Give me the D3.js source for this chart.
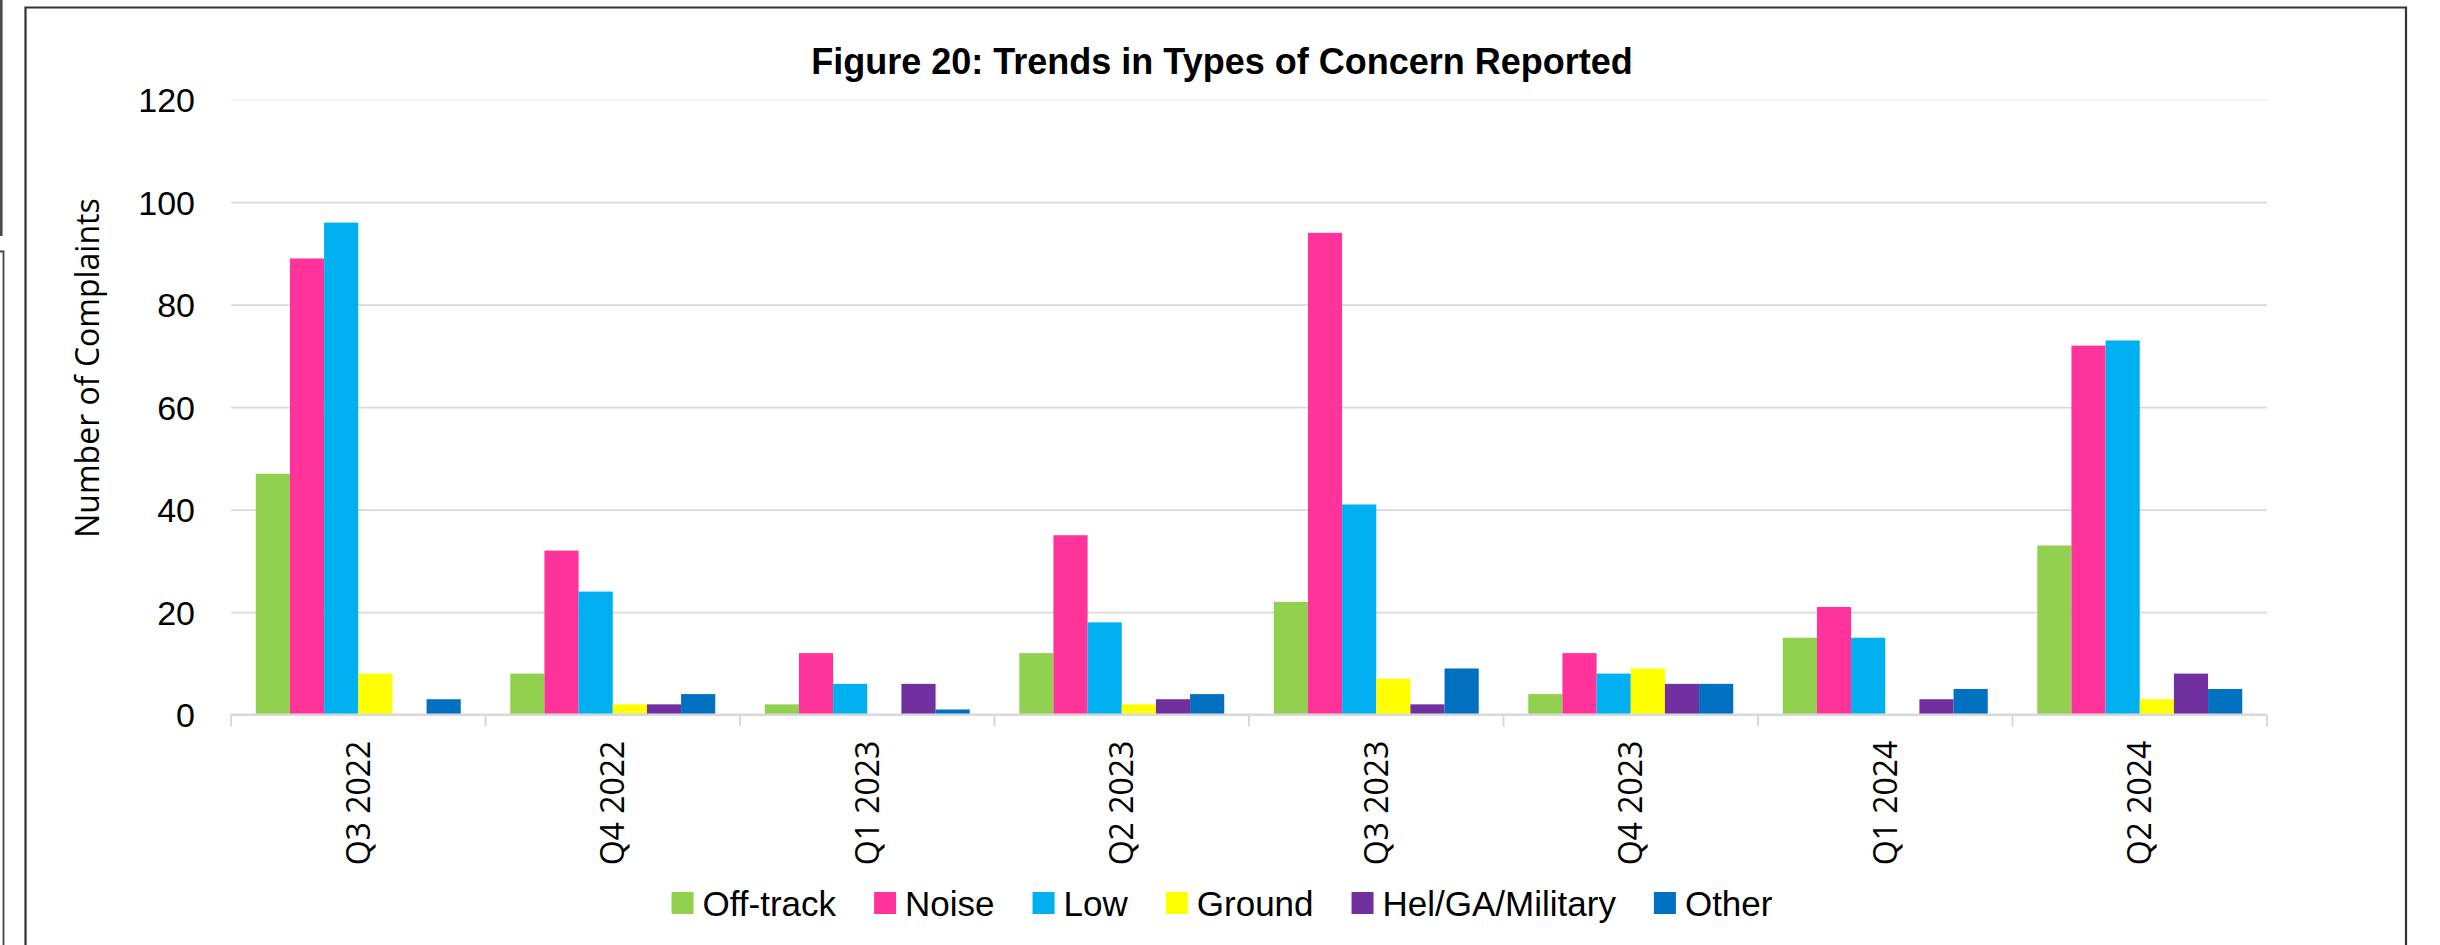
<!DOCTYPE html>
<html>
<head>
<meta charset="utf-8">
<script src="https://cdn.jsdelivr.net/npm/d3@7"></script>
<style>
  html, body { margin: 0; padding: 0; background: #fff; }
  svg { display: block; }
</style>
</head>
<body>
<svg id="chart" width="2440" height="945"></svg>
<script>
// ---- Data ----
const categories = ["Q3 2022", "Q4 2022", "Q1 2023", "Q2 2023", "Q3 2023", "Q4 2023", "Q1 2024", "Q2 2024"];
const seriesNames = ["Off-track", "Noise", "Low", "Ground", "Hel/GA/Military", "Other"];
const offTrack = [47, 8, 2, 12, 22, 4, 15, 33];
const noise    = [89, 32, 12, 35, 94, 12, 21, 72];
const low      = [96, 24, 6, 18, 41, 8, 15, 73];
const ground   = [8, 2, 0, 2, 7, 9, 0, 3];
const helGA    = [0, 2, 6, 3, 2, 6, 3, 8];
const other    = [3, 4, 1, 4, 9, 6, 5, 5];
const yTicks   = [0, 20, 40, 60, 80, 100, 120];
const titleText = "Figure 20: Trends in Types of Concern Reported";
const yTitle = "Number of Complaints";

const seriesValues = [offTrack, noise, low, ground, helGA, other];
const colors = ["#92d050", "#ff3399", "#00b0f0", "#ffff00", "#7030a0", "#0070c0"];

// ---- Layout ----
const svg = d3.select("#chart");
const plot = { left: 231, right: 2267, top: 99.6, bottom: 714.6 };
const centerX = 1222;

// decorative frames (page borders)
svg.append("line").attr("x1", 1.3).attr("x2", 1.3).attr("y1", 0).attr("y2", 236)
  .attr("stroke", "#444").attr("stroke-width", 2.5);
svg.append("path").attr("d", "M0,251.5 H3.5 V945").attr("fill", "none")
  .attr("stroke", "#444").attr("stroke-width", 1.8);
svg.append("path").attr("d", "M25.5,945 V7.5 H2406 V945").attr("fill", "none")
  .attr("stroke", "#333").attr("stroke-width", 2.2);

// scales
const x0 = d3.scaleBand().domain(categories).range([plot.left, plot.right]).paddingInner(0).paddingOuter(0);
const gapRatio = 1.45;
const bw = x0.bandwidth();
const barW = bw / (seriesNames.length + gapRatio);
const groupPad = barW * gapRatio / 2;
const x1 = d3.scaleBand().domain(seriesNames).range([groupPad, bw - groupPad]).padding(0);
const y = d3.scaleLinear().domain([0, 120]).range([plot.bottom, plot.top]);
const color = d3.scaleOrdinal().domain(seriesNames).range(colors);

// gridlines + y tick labels via axis
const yAxis = d3.axisLeft(y).tickValues(yTicks).tickSize(-(plot.right - plot.left)).tickPadding(36);
const gy = svg.append("g").attr("transform", `translate(${plot.left},0)`).call(yAxis);
gy.select(".domain").remove();
gy.selectAll(".tick line")
  .attr("stroke", d => d === 120 ? "#f2f2f2" : "#d9d9d9")
  .attr("stroke-width", 1.6);
gy.selectAll(".tick text")
  .attr("fill", "#000")
  .style("font-family", "'Liberation Sans', Arial, sans-serif")
  .style("font-size", "34px")
  .attr("dy", "0.36em");

// bars
const groups = svg.append("g").selectAll("g")
  .data(categories)
  .join("g")
  .attr("transform", d => `translate(${x0(d)},0)`);

groups.selectAll("rect")
  .data((c, i) => seriesNames.map((s, j) => ({ s, v: seriesValues[j][i] })))
  .join("rect")
  .attr("x", d => x1(d.s))
  .attr("width", x1.bandwidth())
  .attr("y", d => y(d.v))
  .attr("height", d => y(0) - y(d.v))
  .attr("fill", d => color(d.s));

// x axis baseline
svg.append("line")
  .attr("x1", plot.left).attr("x2", plot.right)
  .attr("y1", y(0)).attr("y2", y(0))
  .attr("stroke", "#d9d9d9").attr("stroke-width", 2);

// boundary ticks
const boundaries = categories.map(c => x0(c)).concat([x0.range()[1]]);
svg.append("g").selectAll("line")
  .data(boundaries)
  .join("line")
  .attr("x1", d => d).attr("x2", d => d)
  .attr("y1", y(0)).attr("y2", y(0) + 12)
  .attr("stroke", "#d9d9d9").attr("stroke-width", 2);

// category labels (rotated) via axis
const xAxis = d3.axisBottom(x0).tickSize(0).tickPadding(0);
const gx = svg.append("g").attr("transform", `translate(0,${y(0)})`).call(xAxis);
gx.select(".domain").remove();
gx.selectAll(".tick text")
  .attr("fill", "#000")
  .style("font-family", "'Open Sans', sans-serif")
  .style("font-size", "32px")
  .attr("text-anchor", "end")
  .attr("transform", "translate(0,26) rotate(-90)")
  .attr("x", 0).attr("y", 0)
  .attr("dy", "0.36em");

// title
svg.append("text")
  .attr("x", centerX).attr("y", 74)
  .attr("text-anchor", "middle")
  .style("font-family", "'Liberation Sans', Arial, sans-serif")
  .style("font-weight", "bold")
  .style("font-size", "36px")
  .attr("fill", "#000")
  .text(titleText);

// y title
svg.append("text")
  .attr("transform", "translate(99,368) rotate(-90)")
  .attr("text-anchor", "middle")
  .style("font-family", "'Open Sans', sans-serif")
  .style("font-size", "32px")
  .attr("fill", "#000")
  .text(yTitle);

// legend
const legend = svg.append("g");
const sw = 22, textGap = 9, itemGap = 38;
let cursor = 0;
const items = [];
seriesNames.forEach((s, i) => {
  const g = legend.append("g");
  g.append("rect").attr("x", 0).attr("y", -sw / 2).attr("width", sw).attr("height", sw).attr("fill", colors[i]);
  const t = g.append("text")
    .attr("x", sw + textGap).attr("y", 0).attr("dy", "0.36em")
    .style("font-family", "'Liberation Sans', Arial, sans-serif")
    .style("font-size", "35px")
    .attr("fill", "#000")
    .text(s);
  const w = sw + textGap + t.node().getComputedTextLength();
  g.attr("transform", `translate(${cursor},0)`);
  cursor += w + itemGap;
});
const legendW = cursor - itemGap;
legend.attr("transform", `translate(${centerX - legendW / 2},903)`);
</script>
</body>
</html>
